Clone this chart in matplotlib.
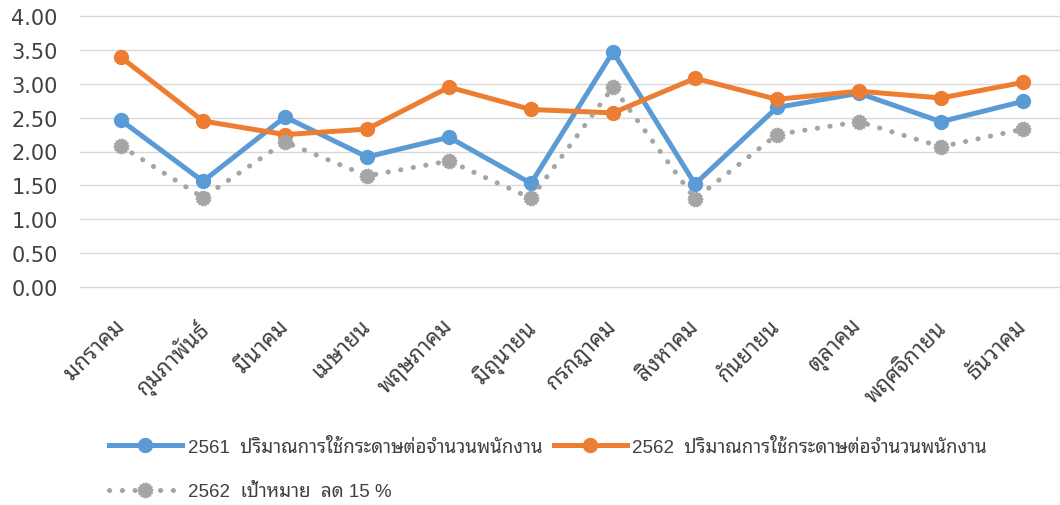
import matplotlib
matplotlib.use("Agg")
import matplotlib.pyplot as plt
import numpy as np
from matplotlib.path import Path
from matplotlib.lines import Line2D
from matplotlib.transforms import ScaledTranslation

months = ["มกราคม", "กุมภาพันธ์", "มีนาคม", "เมษายน", "พฤษภาคม", "มิถุนายน",
          "กรกฎาคม", "สิงหาคม", "กันยายน", "ตุลาคม", "พฤศจิกายน", "ธันวาคม"]
usage_2561 = [2.46, 1.56, 2.51, 1.92, 2.21, 1.53, 3.47, 1.52, 2.65, 2.86, 2.44, 2.74]
usage_2562 = [3.39, 2.45, 2.25, 2.33, 2.95, 2.62, 2.57, 3.08, 2.77, 2.89, 2.79, 3.02]
target_2562 = [2.08, 1.32, 2.14, 1.64, 1.86, 1.31, 2.95, 1.30, 2.25, 2.44, 2.07, 2.33]
yticks = [0, 0.5, 1.0, 1.5, 2.0, 2.5, 3.0, 3.5, 4.0]
labels = ["2561  ปริมาณการใช้กระดาษต่อจำนวนพนักงาน",
          "2562  ปริมาณการใช้กระดาษต่อจำนวนพนักงาน",
          "2562  เป้าหมาย  ลด 15 %"]

BLUE = "#5B9BD5"
ORANGE = "#ED7D31"
GRAY = "#A5A5A5"
TXT = "#404040"

# gear-shaped marker
n_teeth = 14
ang = np.linspace(0, 2 * np.pi, 4 * n_teeth, endpoint=False)
rad = np.where((np.arange(4 * n_teeth) // 2) % 2 == 0, 1.0, 0.84)
verts = np.column_stack([rad * np.cos(ang), rad * np.sin(ang)])
verts = np.vstack([verts, verts[:1]])
codes = [Path.MOVETO] + [Path.LINETO] * (len(verts) - 2) + [Path.CLOSEPOLY]
gear = Path(verts, codes)

DOTS = (0, (0.05, 2.5))

W, H = 1060, 506
fig = plt.figure(figsize=(W / 100, H / 100), dpi=100)
ax = fig.add_axes([80 / W, 1 - 288 / H, (W - 80) / W, (288 - 17) / H])

x = np.arange(len(months))
ax.plot(x, usage_2561, color=BLUE, lw=3.6, marker="o", ms=10, zorder=3,
        solid_capstyle="round", solid_joinstyle="round")
ax.plot(x, usage_2562, color=ORANGE, lw=3.6, marker="o", ms=10, zorder=4,
        solid_capstyle="round", solid_joinstyle="round")
ax.plot(x, target_2562, color=GRAY, lw=3.6, linestyle=DOTS,
        dash_capstyle="round", marker=gear, ms=10.5, zorder=5)

ax.set_xlim(-0.5, -0.5 + (W - 80) / 82.0)
ax.set_ylim(0, 4)
ax.set_yticks(yticks)
ax.set_yticklabels([f"{v:.2f}" for v in yticks])
ax.set_xticks(x)
ax.tick_params(axis="x", length=0, pad=8)
ax.tick_params(axis="y", length=0, pad=16, labelsize=15, labelcolor=TXT)
ax.set_xticklabels(months, rotation=45, ha="right", rotation_mode="anchor",
                   family=["Noto Sans Thai Looped", "DejaVu Sans"],
                   fontsize=16, fontweight="medium", color=TXT)
off = ScaledTranslation(-7 / 100, -17 / 100, fig.dpi_scale_trans)
for lab in ax.get_xticklabels():
    lab.set_transform(lab.get_transform() + off)
ax.grid(axis="y", color="#D9D9D9", lw=1.0)
for gl in ax.get_ygridlines():
    gl.set_clip_on(False)
ax.set_axisbelow(True)
for s in ax.spines.values():
    s.set_visible(False)

h1 = Line2D([], [], color=BLUE, lw=3.6, marker="o", ms=10)
h2 = Line2D([], [], color=ORANGE, lw=3.6, marker="o", ms=10)
h3 = Line2D([], [], color=GRAY, lw=3.6, linestyle=DOTS,
            dash_capstyle="round", marker=gear, ms=10.5)
leg = fig.legend([h1, h3, h2], [labels[0], labels[2], labels[1]], ncol=2,
                 loc="upper left", bbox_to_anchor=(92 / W, 1 - 422 / H),
                 frameon=False, handlelength=3.9, handletextpad=0.3,
                 columnspacing=0.6, labelspacing=1.45,
                 prop={"family": ["Liberation Sans", "Noto Sans Thai Looped"], "size": 13.5})
for t in leg.get_texts():
    t.set_color(TXT)

fig.savefig("out.png", dpi=100)
